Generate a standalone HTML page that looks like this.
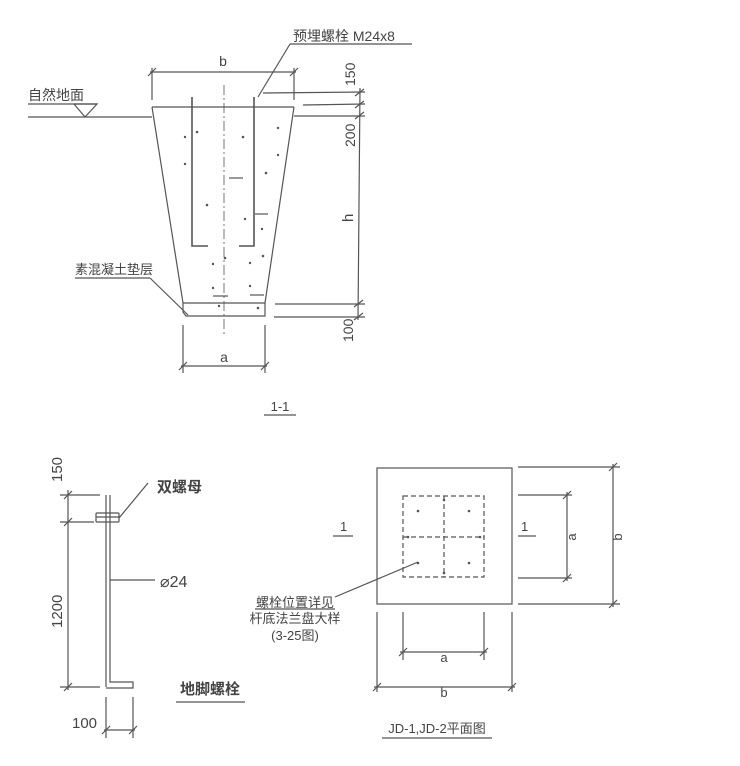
<!DOCTYPE html>
<html><head><meta charset="utf-8"><style>
html,body{margin:0;padding:0;background:#fff;}
svg{display:block;}
text{font-family:"Liberation Sans","Noto Sans CJK SC",sans-serif;fill:#444;}
</style></head><body>
<svg width="740" height="766" viewBox="0 0 740 766" xmlns="http://www.w3.org/2000/svg">
<g stroke="#555" stroke-width="1.2" fill="none">
<line x1="28" y1="117" x2="152" y2="117"/>
<line x1="294" y1="116" x2="365" y2="116"/>
<polyline points="74,104 97,104 85,117 74,104"/>
<line x1="28" y1="104" x2="97" y2="104"/>
<line x1="152" y1="107" x2="294" y2="107"/>
<line x1="152" y1="107" x2="183" y2="303"/>
<line x1="294" y1="107" x2="265" y2="303"/>
<line x1="183" y1="303" x2="265" y2="303"/>
<polyline points="183,303 183,312 186,316 265,316 265,303"/>
<line x1="224" y1="85" x2="224" y2="335" stroke-dasharray="10,3,2,3" stroke-width="0.8"/>
<polyline points="192,97 192,246 208,246" stroke-width="1.6"/>
<polyline points="254,97 254,246 239,246" stroke-width="1.6"/>
<line x1="229" y1="178" x2="243" y2="178"/>
<line x1="255" y1="214" x2="268" y2="214"/>
<line x1="213" y1="296" x2="228" y2="296"/>
<line x1="250" y1="295" x2="264" y2="295"/>
<line x1="150" y1="72" x2="296" y2="72"/>
<line x1="152" y1="68" x2="152" y2="100"/>
<line x1="294" y1="68" x2="294" y2="100"/>
<line x1="148" y1="76" x2="156" y2="68"/><line x1="290" y1="76" x2="298" y2="68"/>
<line x1="360" y1="88" x2="358" y2="320"/>
<line x1="263" y1="93" x2="365" y2="92"/>
<line x1="303" y1="105" x2="365" y2="104"/>
<line x1="275" y1="304" x2="365" y2="304"/>
<line x1="274" y1="317" x2="365" y2="317"/>
<line x1="355" y1="96" x2="364" y2="89"/>
<line x1="355" y1="108" x2="364" y2="101"/>
<line x1="355" y1="119" x2="364" y2="112"/>
<line x1="354" y1="307" x2="363" y2="300"/>
<line x1="354" y1="320" x2="363" y2="313"/>
<line x1="181" y1="366" x2="267" y2="366"/>
<line x1="183" y1="325" x2="183" y2="373"/>
<line x1="265" y1="325" x2="265" y2="373"/>
<line x1="179" y1="370" x2="187" y2="362"/><line x1="261" y1="370" x2="269" y2="362"/>
<line x1="258" y1="97" x2="290" y2="44"/>
<line x1="290" y1="44" x2="412" y2="44"/>
<line x1="75" y1="278" x2="150" y2="278"/>
<line x1="150" y1="278" x2="188" y2="315"/>
<line x1="264" y1="415" x2="296" y2="415"/>
<line x1="106" y1="495" x2="106" y2="687"/>
<polyline points="110,495 110,682 133,682 133,688 106,688"/>
<rect x="96" y="513" width="23" height="9" rx="1"/>
<line x1="96" y1="517" x2="119" y2="517"/>
<line x1="68" y1="490" x2="68" y2="690"/>
<line x1="60" y1="495" x2="100" y2="495"/>
<line x1="60" y1="522" x2="94" y2="522"/>
<line x1="60" y1="687" x2="100" y2="687"/>
<line x1="64" y1="499" x2="72" y2="491"/><line x1="64" y1="526" x2="72" y2="518"/><line x1="64" y1="691" x2="72" y2="683"/>
<line x1="119" y1="518" x2="148" y2="483"/>
<line x1="110" y1="580" x2="155" y2="580"/>
<line x1="176" y1="702" x2="245" y2="702"/>
<line x1="106" y1="697" x2="106" y2="738"/>
<line x1="133" y1="697" x2="133" y2="738"/>
<line x1="104" y1="730" x2="135" y2="730"/>
<line x1="102" y1="734" x2="110" y2="726"/><line x1="129" y1="734" x2="137" y2="726"/>
<rect x="377" y="468" width="135" height="136"/>
<rect x="403" y="496" width="81" height="81" stroke-dasharray="5,3"/>
<line x1="444" y1="496" x2="444" y2="577" stroke-dasharray="5,3"/>
<line x1="403" y1="537" x2="484" y2="537" stroke-dasharray="5,3"/>
<line x1="333" y1="536" x2="353" y2="536"/>
<line x1="518" y1="536" x2="536" y2="536"/>
<line x1="518" y1="495" x2="572" y2="495"/>
<line x1="518" y1="578" x2="572" y2="578"/>
<line x1="567" y1="492" x2="567" y2="581"/>
<line x1="518" y1="467" x2="620" y2="467"/>
<line x1="518" y1="604" x2="620" y2="604"/>
<line x1="613" y1="464" x2="613" y2="607"/>
<line x1="563" y1="499" x2="571" y2="491"/><line x1="563" y1="582" x2="571" y2="574"/>
<line x1="609" y1="471" x2="617" y2="463"/><line x1="609" y1="608" x2="617" y2="600"/>
<line x1="403" y1="612" x2="403" y2="660"/>
<line x1="484" y1="612" x2="484" y2="660"/>
<line x1="400" y1="652" x2="487" y2="652"/>
<line x1="377" y1="612" x2="377" y2="692"/>
<line x1="512" y1="612" x2="512" y2="692"/>
<line x1="374" y1="687" x2="515" y2="687"/>
<line x1="399" y1="656" x2="407" y2="648"/><line x1="480" y1="656" x2="488" y2="648"/>
<line x1="373" y1="691" x2="381" y2="683"/><line x1="508" y1="691" x2="516" y2="683"/>
<line x1="335" y1="597" x2="418" y2="562"/>
<line x1="255" y1="609" x2="335" y2="609"/>
<line x1="382" y1="738" x2="492" y2="738"/>
</g>
<g fill="#555">
<circle cx="418" cy="511" r="1.3"/><circle cx="469" cy="511" r="1.3"/><circle cx="444" cy="500" r="1.3"/>
<circle cx="408" cy="537" r="1.3"/><circle cx="480" cy="537" r="1.3"/><circle cx="418" cy="563" r="1.3"/>
<circle cx="469" cy="563" r="1.3"/><circle cx="444" cy="573" r="1.3"/>
<circle cx="185" cy="137" r="1.2"/><circle cx="197" cy="132" r="1.3"/><circle cx="243" cy="137" r="1.3"/>
<circle cx="278" cy="128" r="1.2"/><circle cx="185" cy="164" r="1.2"/><circle cx="278" cy="155" r="1.2"/>
<circle cx="266" cy="173" r="1.3"/><circle cx="207" cy="205" r="1.3"/><circle cx="245" cy="219" r="1.2"/>
<circle cx="262" cy="229" r="1.2"/><circle cx="225" cy="258" r="1.3"/><circle cx="263" cy="256" r="1.3"/>
<circle cx="213" cy="264" r="1.2"/><circle cx="250" cy="263" r="1.2"/><circle cx="213" cy="288" r="1.2"/>
<circle cx="250" cy="286" r="1.2"/><circle cx="219" cy="306" r="1.2"/><circle cx="258" cy="308" r="1.3"/>
</g>
<text x="293" y="41" font-size="14">预埋螺栓 M24x8</text>
<text x="28" y="100" font-size="14">自然地面</text>
<text x="75" y="274" font-size="13">素混凝土垫层</text>
<text x="223" y="66" font-size="14" text-anchor="middle">b</text>
<text x="224" y="362" font-size="14" text-anchor="middle">a</text>
<text x="280" y="411" font-size="13" text-anchor="middle">1-1</text>
<text transform="translate(355,86) rotate(-90)" font-size="14">150</text>
<text transform="translate(355,147) rotate(-90)" font-size="14">200</text>
<text transform="translate(353,222) rotate(-90)" font-size="15">h</text>
<text transform="translate(353,342) rotate(-90)" font-size="14">100</text>
<text transform="translate(62,482) rotate(-90)" font-size="15">150</text>
<text transform="translate(62,628) rotate(-90)" font-size="15">1200</text>
<text x="157" y="492" font-size="15" font-weight="bold">双螺母</text>
<text x="160" y="587" font-size="16">⌀24</text>
<text x="180" y="694" font-size="15" font-weight="bold">地脚螺栓</text>
<text x="72" y="728" font-size="15">100</text>
<text x="340" y="531" font-size="13">1</text>
<text x="521" y="531" font-size="13">1</text>
<text transform="translate(576,537) rotate(-90)" font-size="13" text-anchor="middle">a</text>
<text transform="translate(622,537) rotate(-90)" font-size="13" text-anchor="middle">b</text>
<text x="444" y="662" font-size="13" text-anchor="middle">a</text>
<text x="444" y="697" font-size="13" text-anchor="middle">b</text>
<text x="295" y="607" font-size="13" text-anchor="middle">螺栓位置详见</text>
<text x="295" y="623" font-size="13" text-anchor="middle">杆底法兰盘大样</text>
<text x="295" y="640" font-size="13" text-anchor="middle">(3-25图)</text>
<text x="437" y="733" font-size="13" text-anchor="middle">JD-1,JD-2平面图</text>
</svg>
</body></html>
